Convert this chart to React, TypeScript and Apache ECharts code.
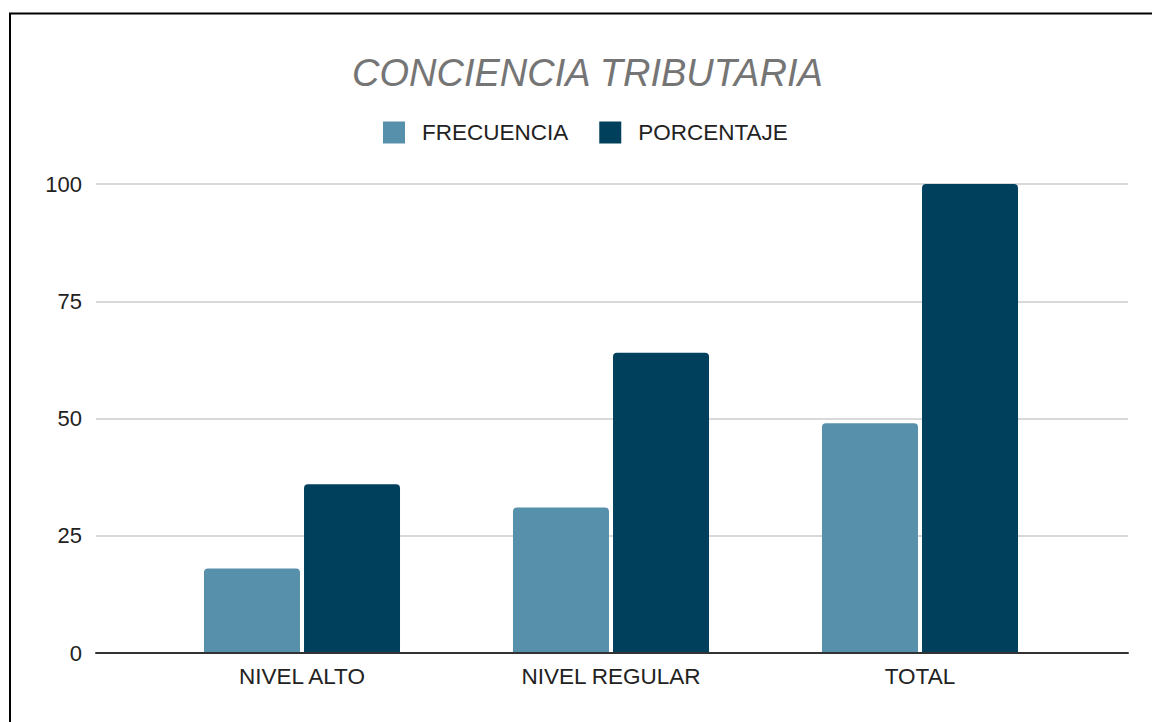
import React, { useEffect, useRef } from "react";
import * as echarts from "echarts";

const categories = ["NIVEL ALTO", "NIVEL REGULAR", "TOTAL"];
const frecuencia = [18, 31, 49];
const porcentaje = [36, 64, 100];
const seriesNames = ["FRECUENCIA", "PORCENTAJE"];
const titleText = "CONCIENCIA TRIBUTARIA";
const yMin = 0;
const yMax = 100;
const yInterval = 25;

const FONT = "'Liberation Sans', Arial, sans-serif";

export default function App() {
  const ref = useRef<HTMLDivElement>(null);
  useEffect(() => {
    if (!ref.current) return;
    const chart = echarts.init(ref.current, undefined, { renderer: "svg" });
    chart.setOption({
      animation: false,
      backgroundColor: "#ffffff",
      textStyle: { fontFamily: FONT },
      title: {
        text: titleText,
        left: 352,
        top: 54,
        padding: 0,
        textStyle: {
          fontFamily: FONT,
          fontSize: 38,
          fontStyle: "italic",
          fontWeight: "normal",
          color: "#757575",
        },
      },
      legend: {
        top: 121,
        left: 383,
        padding: 0,
        itemWidth: 22,
        itemHeight: 22,
        itemGap: 31,
        icon: "rect",
        data: seriesNames,
        textStyle: {
          fontFamily: FONT,
          fontSize: 22.5,
          color: "#222222",
          padding: [0, 0, 0, 12],
        },
      },
      graphic: [
        {
          type: "line",
          shape: { x1: 10, y1: 13.5, x2: 10, y2: 722 },
          style: { stroke: "#000000", lineWidth: 2 },
          silent: true,
          z: 100,
        },
        {
          type: "line",
          shape: { x1: 9, y1: 13.5, x2: 1152, y2: 13.5 },
          style: { stroke: "#000000", lineWidth: 2 },
          silent: true,
          z: 100,
        },
      ],
      grid: [
        { left: 96, right: 24, top: 184, height: 469 },
        { left: 147.5, width: 927, top: 184, height: 469 },
      ],
      xAxis: [
        {
          gridIndex: 0,
          type: "value",
          min: 0,
          max: 1,
          axisLabel: { show: false },
          axisTick: { show: false },
          splitLine: { show: false },
          axisLine: { show: true, lineStyle: { color: "#333333", width: 2 } },
          z: 5,
        },
        {
          gridIndex: 1,
          type: "category",
          data: categories,
          axisLine: { show: false },
          axisTick: { show: false },
          axisLabel: {
            fontFamily: FONT,
            fontSize: 22.5,
            color: "#222222",
            margin: 12,
          },
        },
      ],
      yAxis: [
        {
          gridIndex: 0,
          type: "value",
          min: yMin,
          max: yMax,
          interval: yInterval,
          axisLine: { show: false },
          axisTick: { show: false },
          axisLabel: {
            fontFamily: FONT,
            fontSize: 22,
            color: "#222222",
            margin: 14,
          },
          splitLine: { lineStyle: { color: "#cccccc", width: 1.5 } },
        },
        {
          gridIndex: 1,
          type: "value",
          min: yMin,
          max: yMax,
          interval: yInterval,
          show: false,
          splitLine: { show: false },
        },
      ],
      series: [
        {
          name: seriesNames[0],
          type: "bar",
          xAxisIndex: 1,
          yAxisIndex: 1,
          data: frecuencia,
          barWidth: 96,
          barGap: "4.2%",
          itemStyle: { color: "#5790aa", borderRadius: [4, 4, 0, 0] },
        },
        {
          name: seriesNames[1],
          type: "bar",
          xAxisIndex: 1,
          yAxisIndex: 1,
          data: porcentaje,
          barWidth: 96,
          barGap: "4.2%",
          itemStyle: { color: "#01405d", borderRadius: [4, 4, 0, 0] },
        },
      ],
    });
    return () => chart.dispose();
  }, []);
  return (
    <div
      ref={ref}
      style={{ position: "fixed", left: 0, top: 0, width: 1152, height: 722 }}
    />
  );
}
